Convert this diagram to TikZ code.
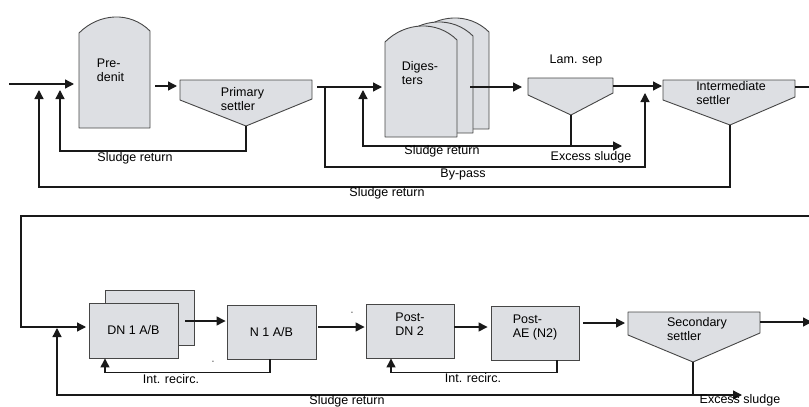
\documentclass[tikz,border=0pt]{standalone}
\usepackage{fontspec}
\setmainfont{Liberation Sans}
\usepackage{tikz}
\usetikzlibrary{calc,arrows.meta,positioning}
\definecolor{tankfill}{RGB}{221,223,227}
\definecolor{tankline}{RGB}{70,70,70}
\definecolor{flowline}{RGB}{25,25,25}
\newcommand{\unitfont}{\fontsize{12.5}{14}\selectfont}
\newcommand{\dashfont}{\fontsize{7}{8}\selectfont}
\tikzset{
  tank/.style   ={draw=tankline, fill=tankfill, line width=0.9pt, line join=round},
  unitbox/.style={rectangle, draw=tankline, fill=tankfill, line width=0.9pt,
                  inner sep=0pt, align=left, font=\unitfont},
  unittxt/.style={inner sep=0pt, align=left, font=\unitfont},
  tag/.style    ={inner sep=0pt, font=\unitfont},
  flow/.style   ={-{Triangle[length=9pt, width=9pt]}, line width=1.3pt, flowline},
  pipe/.style   ={line width=1.3pt, flowline},
}

\begin{document}
\begin{tikzpicture}[x=1pt, y=-1pt, font=\unitfont]
  \useasboundingbox (0,0) rectangle (809,407);
  % ports of the upper line
  \coordinate (feed) at (9,84);   \coordinate (ret2) at (39,84);
  \coordinate (ret1) at (60,84);  \coordinate (pd-w) at (79,84);
  \coordinate (pd-e) at (150,86); \coordinate (prim-w) at (180,86);
  \coordinate (prim-e) at (312,87); \coordinate (prim-b) at (246,126);
  \coordinate (split) at (325,87); \coordinate (dg-ret) at (363,87);
  \coordinate (dg-w) at (385,87); \coordinate (dg-out) at (470,87);
  \coordinate (lam-w) at (528,87); \coordinate (lam-e) at (613,86);
  \coordinate (lam-b) at (571,115); \coordinate (lam-j) at (571,146);
  \coordinate (xs-end) at (622,146); \coordinate (byp) at (645,86);
  \coordinate (int-w) at (663,86); \coordinate (int-e) at (795,87);
  \coordinate (int-b) at (730,125); \coordinate (edge1) at (809,87);

  % pre-denit and the digesters
  \draw[tank] (79,128) -- (79,33) .. controls +(20,-20) and +(-20,-20) .. (150,31) -- (150,128) -- cycle;
  \node[unittxt] (predenit) at (110.5,70) {Pre-\\denit};
  \foreach \s in {2,1,0}
    \draw[tank, shift={(16*\s,-4*\s)}] (385,137) -- (385,42)
      .. controls +(20,-20) and +(-20,-20) .. (457,40) -- (457,137) -- cycle;
  \node[unittxt] (digesters) at (420,73.5) {Diges-\\ters};

  % settlers
  \draw[tank] (180,80) -- (312,80) -- (312,99) -- (prim-b) -- (180,100) -- cycle;
  \node[unittxt] (primary) at (242.5,99) {Primary\\settler};
  \draw[tank] (528,78) -- (613,78) -- (613,93) -- (lam-b) -- (528,95) -- cycle;
  \node[tag] (lamsep) at (576,60) {Lam. sep};
  \draw[tank] (663,80) -- (795,80) -- (795,97) -- (int-b) -- (663,100) -- cycle;
  \node[unittxt] (intermediate) at (731,93.5) {Intermediate\\settler};

  % upper flows
  \draw[flow, shorten >=5pt] (feed) -- (pd-w);
  \draw[flow, shorten <=5pt, shorten >=3pt] (pd-e) -- (prim-w);
  \draw[flow, shorten <=5pt, shorten >=3pt] (prim-e) -- (dg-w);
  \draw[flow, shorten >=6pt] (dg-out) -- (lam-w);
  \draw[flow, shorten >=1pt] (lam-e) -- (int-w);
  \draw[pipe] (int-e) -- (edge1);
  \draw[flow, shorten >=6pt] (prim-b) -- ++(0,25) -| (ret1);
  \draw[flow, shorten >=3pt] (lam-b) -- (lam-j) -| (dg-ret);
  \draw[flow] (lam-j) -- (xs-end);
  \draw[flow, shorten >=7pt] (split) -- ++(0,80) -| (byp);
  \draw[flow, shorten >=6pt] (int-b) -- ++(0,62) -| (ret2);
  \node[tag] (ret-a) at (135,158) {Sludge return};
  \node[tag] (ret-b) at (442,151) {Sludge return};
  \node[tag] (excess-a) at (591,157) {Excess sludge};
  \node[tag] (bypass) at (463,174) {By-pass};
  \node[tag] (ret-c) at (387,193) {Sludge return};

  % lower line
  \node[unitbox, minimum width=89pt, minimum height=55pt] (dnb) at (149.5,317.5) {};
  \node[unitbox, minimum width=89pt, minimum height=55pt] (dn) at (133.5,330.5) {DN 1 A/B};
  \node[unitbox, minimum width=89pt, minimum height=54pt] (n1) at (271.5,332) {N 1 A/B};
  \node[unitbox, minimum width=88pt, minimum height=54pt, text depth=14pt] (pdn) at (410,331) {Post-\\DN 2};
  \node[unitbox, minimum width=88pt, minimum height=54pt, text depth=14pt] (pae) at (535,333) {Post-\\AE (N2)};
  \coordinate (edge2) at (809,216); \coordinate (loop) at (21,216);
  \coordinate (dn-w) at (89,327);   \coordinate (dn-out) at (185,321);
  \coordinate (ret3) at (57,327);
  \coordinate (sec-w) at (628,323); \coordinate (sec-e) at (760,322);
  \coordinate (sec-b) at (693,362); \coordinate (sec-j) at (693,395);
  \coordinate (xs2-end) at (742,395); \coordinate (edge3) at (812,322);
  \draw[tank] (628,312) -- (760,312) -- (760,333) -- (sec-b) -- (628,335) -- cycle;
  \node[unittxt] (secondary) at (697,329.5) {Secondary\\settler};

  % lower flows
  \draw[flow, shorten >=3pt] (edge2) -- (loop) |- (dn-w);
  \draw[flow, shorten >=1pt] (dn-out) -- (dn-out -| n1.west);
  \draw[flow, shorten <=2pt, shorten >=1pt] ([yshift=5pt]n1.east) -- ([yshift=5pt]n1.east -| pdn.west);
  \draw[flow, shorten >=3pt] ([yshift=4pt]pdn.east) -- ([yshift=4pt]pdn.east -| pae.west);
  \draw[flow, shorten <=4pt, shorten >=3pt] ([yshift=10pt]pae.east) -- (sec-w);
  \draw[flow] (sec-e) -- (edge3);
  \draw[flow] ([xshift=-1.5pt]n1.south) -- ++(0,13) -| ([xshift=-28.5pt]dn.south);
  \draw[flow] ([xshift=22pt]pae.south) -- ++(0,12) -| ([xshift=-19pt]pdn.south);
  \draw[pipe] (sec-b) -- (sec-j);
  \draw[flow] (sec-j) -- (xs2-end);
  \draw[flow, shorten >=1pt] (sec-j) -| (ret3);
  \node[tag] (recirc-a) at (171,379) {Int. recirc.};
  \node[tag] (recirc-b) at (473,378) {Int. recirc.};
  \node[tag] (ret-d) at (347,401) {Sludge return};
  \node[tag] (excess-b) at (740,400) {Excess sludge};
  \node[inner sep=0pt, font=\dashfont] (dash-a) at (213,362) {-};
  \node[inner sep=0pt, font=\dashfont] (dash-b) at (352,313) {-};
\end{tikzpicture}
\end{document}
